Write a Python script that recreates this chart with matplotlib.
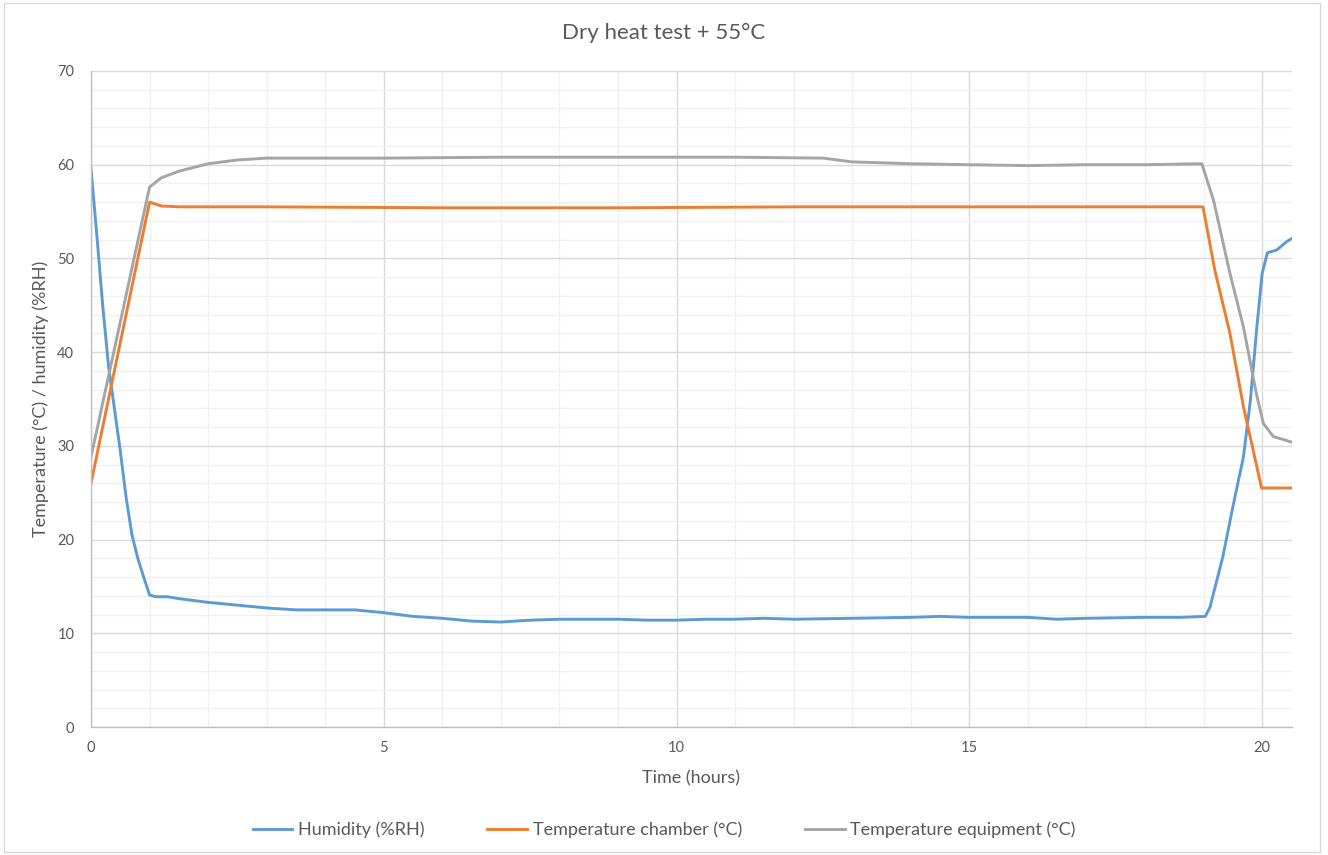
import matplotlib
matplotlib.use("Agg")
import matplotlib.pyplot as plt
from matplotlib.patches import Rectangle
from matplotlib.ticker import MultipleLocator

plt.rcParams['font.family'] = ['Lato', 'DejaVu Sans']

title = "Dry heat test + 55°C"
x_label = "Time (hours)"
y_label = "Temperature (°C) / humidity (%RH)"

hum_t = [0, 0.1, 0.2, 0.3, 0.4, 0.5, 0.6, 0.7, 0.8, 0.9, 1.0, 1.1, 1.3, 1.5, 2.0, 2.5, 3.0, 3.5,
         4.5, 5.0, 5.5, 6.0, 6.5, 7.0, 7.5, 8.0, 9.0, 9.5, 10.0, 10.5, 11.0, 11.5, 12.0, 13.0,
         14.0, 14.5, 15.0, 16.0, 16.5, 17.0, 18.0, 18.6, 19.03, 19.11, 19.33, 19.5, 19.68,
         19.8, 19.91, 20.0, 20.09, 20.25, 20.42, 20.5]
hum_v = [59.6, 52.5, 45.0, 38.5, 34.0, 29.5, 24.5, 20.5, 18.0, 16.0, 14.1, 13.9, 13.9, 13.7,
         13.3, 13.0, 12.7, 12.5, 12.5, 12.2, 11.8, 11.6, 11.3, 11.2, 11.4, 11.5, 11.5, 11.4,
         11.4, 11.5, 11.5, 11.6, 11.5, 11.6, 11.7, 11.8, 11.7, 11.7, 11.5, 11.6, 11.7, 11.7,
         11.8, 12.8, 18.2, 23.5, 28.8, 34.9, 42.7, 48.4, 50.6, 50.9, 51.8, 52.1]

chamber_t = [0, 1.0, 1.1, 1.2, 1.5, 3, 6, 9, 12, 15, 18, 18.99, 19.19, 19.45, 19.68, 19.99, 20.5]
chamber_v = [26.0, 56.0, 55.8, 55.6, 55.5, 55.5, 55.4, 55.4, 55.5, 55.5, 55.5, 55.5, 48.8,
             42.0, 34.2, 25.5, 25.5]

equip_t = [0, 0.5, 1.0, 1.2, 1.5, 2.0, 2.5, 3.0, 5.0, 7.0, 9.0, 11.0, 12.5, 13.0, 14.0, 15.0,
           16.0, 17.0, 18.0, 18.97, 19.17, 19.45, 19.68, 19.9, 20.02, 20.19, 20.5]
equip_v = [28.8, 43.2, 57.6, 58.6, 59.3, 60.1, 60.5, 60.7, 60.7, 60.8, 60.8, 60.8, 60.7, 60.3,
           60.1, 60.0, 59.9, 60.0, 60.0, 60.1, 56.2, 48.4, 42.7, 35.6, 32.4, 31.0, 30.4]

series_labels = ["Humidity (%RH)", "Temperature chamber (°C)", "Temperature equipment (°C)"]
colors = ["#5B9BD5", "#ED7D31", "#A5A5A5"]

fig = plt.figure(figsize=(13.28, 8.55), dpi=100)
fig.patches.append(Rectangle((0.003, 0.004), 0.991, 0.992, transform=fig.transFigure,
                             fill=False, edgecolor="#D9D9D9", linewidth=1))
ax = fig.add_axes([0.0685, 0.1497, 0.9044, 0.7673])

ax.plot(hum_t, hum_v, color=colors[0], lw=2.1, label=series_labels[0])
ax.plot(chamber_t, chamber_v, color=colors[1], lw=2.1, label=series_labels[1])
ax.plot(equip_t, equip_v, color=colors[2], lw=2.1, label=series_labels[2])

ax.set_xlim(0, 20.51)
ax.set_ylim(0, 70)
ax.xaxis.set_major_locator(MultipleLocator(5))
ax.xaxis.set_minor_locator(MultipleLocator(1))
ax.yaxis.set_major_locator(MultipleLocator(10))
ax.yaxis.set_minor_locator(MultipleLocator(2))
ax.grid(which='major', color="#D9D9D9", lw=1)
ax.grid(which='minor', color="#F0F0F0", lw=1)
ax.set_axisbelow(True)
for s in ['top', 'right']:
    ax.spines[s].set_visible(False)
for s in ['left', 'bottom']:
    ax.spines[s].set_color("#BFBFBF")
    ax.spines[s].set_linewidth(1)
ax.tick_params(which='both', length=0, colors="#595959", labelsize=10.5)
ax.tick_params(axis='x', pad=10)
ax.tick_params(axis='y', pad=12)

fig.text(0.5, 1 - 33 / 855, title, fontsize=16, color="#595959", ha='center', va='center')
ax.set_xlabel(x_label, fontsize=13, color="#595959", labelpad=11)
ax.set_ylabel(y_label, fontsize=13, color="#595959", labelpad=6)

leg = fig.legend(loc='center', bbox_to_anchor=(0.5, 1 - 830 / 855), ncol=3, frameon=False,
                 fontsize=13, handlelength=2.2, handletextpad=0.3, columnspacing=3.5)
for t in leg.get_texts():
    t.set_color("#595959")

fig.savefig("out.png", dpi=100)
